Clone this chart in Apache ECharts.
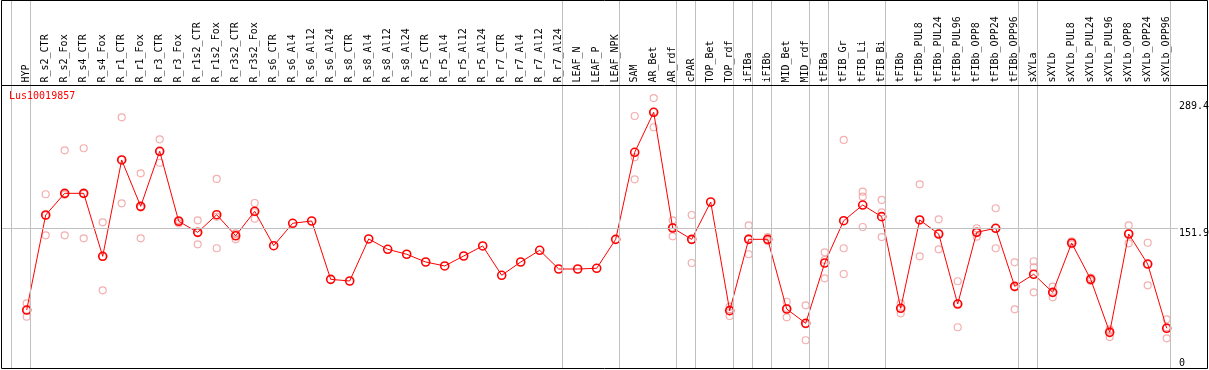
<!DOCTYPE html>
<html><head><meta charset="utf-8">
<script src="https://cdn.jsdelivr.net/npm/echarts@6/dist/echarts.min.js"></script>
<style>html,body{margin:0;padding:0;background:#fff}#c{width:1209px;height:370px}</style>
</head><body><div id="c"></div>
<script>
const title = 'Lus10019857';
const categories = ['HYP','R_s2_CTR','R_s2_Fox','R_s4_CTR','R_s4_Fox','R_r1_CTR','R_r1_Fox','R_r3_CTR','R_r3_Fox','R_r1s2_CTR','R_r1s2_Fox','R_r3s2_CTR','R_r3s2_Fox','R_s6_CTR','R_s6_Al4','R_s6_Al12','R_s6_Al24','R_s8_CTR','R_s8_Al4','R_s8_Al12','R_s8_Al24','R_r5_CTR','R_r5_Al4','R_r5_Al12','R_r5_Al24','R_r7_CTR','R_r7_Al4','R_r7_Al12','R_r7_Al24','LEAF_N','LEAF_P','LEAF_NPK','SAM','AR_Bet','AR_rdf','cPAR','TOP_Bet','TOP_rdf','iFIBa','iFIBb','MID_Bet','MID_rdf','tFIBa','tFIB_Gr','tFIB_Li','tFIB_Bi','tFIBb','tFIBb_PUL8','tFIBb_PUL24','tFIBb_PUL96','tFIBb_OPP8','tFIBb_OPP24','tFIBb_OPP96','sXYLa','sXYLb','sXYLb_PUL8','sXYLb_PUL24','sXYLb_PUL96','sXYLb_OPP8','sXYLb_OPP24','sXYLb_OPP96'];
const means = [62.9,166.0,189.5,189.5,121.2,225.7,175.4,235.1,159.2,147.2,166.3,143.5,170.0,132.7,157.0,159.5,96.2,94.4,140.0,128.8,123.4,115.0,110.7,121.5,132.4,100.6,115.0,127.7,107.4,107.4,108.2,139.6,234.0,277.4,151.9,139.6,180.1,62.2,139.6,139.6,64.0,48.5,113.9,159.8,176.8,164.2,64.8,160.6,145.4,69.4,147.2,151.6,88.6,101.7,82.1,135.6,96.2,38.7,145.4,112.8,43.1];
const replicates = [
  [70.2,62.9,55.7],[188.5,144.0,165.5],[236.2,144.0,188.0],[238.4,140.7,189.0],[158.1,84.3,121.0],
  [272.0,178.7,226.0],[211.2,140.7,174.0],[248.1,222.7,235.0],[157.0,160.5,160.0],[160.2,134.2,147.0],
  [205.1,129.9,164.0],[146.1,139.6,145.0],[179.0,162.0,169.0],[],[],[],[],[],[],[],[],[],[],[],[],[],[],[],[],
  [],[],[],[273.4,228.6,204.7],[292.9,261.2,278.0],[160.2,142.9,152.6],[166.0,113.9,139.0],[],[66.5,56.4,63.7],
  [154.8,123.4,140.6],[142.0,139.0,137.5],[71.9,55.0,65.0],[68.0,30.1,47.4],[125.5,117.2,97.3],[247.4,129.9,102.0],
  [191.3,185.9,153.0],[182.3,168.9,142.1],[70.2,59.3,64.8],[199.3,121.2,161.0],[161.3,128.8,146.0],[94.1,44.2,70.0],
  [151.6,142.5,147.5],[173.3,129.9,151.6],[114.7,63.7,87.5],[115.8,109.3,82.1],[88.2,76.7,81.5],[137.5,135.0,134.0],
  [94.4,96.0,98.0],[42.0,33.6,40.5],[154.8,135.3,146.0],[135.9,89.7,112.8],[52.8,32.2,44.3]
];
const groupSizes = [1,28,3,3,1,2,1,1,2,1,3,7,1,7];
const yTickLabels = [289.4, 151.9];
const yZeroLabel = [0];
const yRefLine = 151.9;

// layout (pixels)
const FONT = 'DejaVu Sans Mono';
const plotLeft = 1, plotRight = 1178, plotBottom = 368, dividerY = 85.5;
const firstX = 26.7, step = 19, sepShift = 4 / 19, labelShift = 0.5 / 19;
const xMin = -(firstX - plotLeft) / step;
const xMax = (plotRight - firstX) / step;
const valAtDivider = 306.5;
const yMax = valAtDivider * plotBottom / (plotBottom - dividerY);

const boundaries = [-1 + sepShift];
let cum = -1;
groupSizes.forEach(g => { cum += g; boundaries.push(cum + sepShift); });

const repData = [];
replicates.forEach((arr, i) => arr.forEach(v => repData.push([i, v])));
const meanData = means.map((v, i) => [i, v]);

const hidden = {axisLine: {show: false}, axisTick: {show: false}, splitLine: {show: false}};
const chart = echarts.init(document.getElementById('c'), null, {renderer: 'canvas'});
chart.setOption({
  animation: false,
  backgroundColor: '#fff',
  title: {text: title, left: 9, top: 91, padding: 0,
    textStyle: {color: '#ff0000', fontFamily: FONT, fontSize: 10, fontWeight: 'normal'}},
  grid: {left: plotLeft, right: 1209 - plotRight, top: 0, height: plotBottom, outerBoundsMode: 'none', containLabel: false},
  xAxis: [{
    type: 'value', min: xMin, max: xMax, position: 'bottom', ...hidden, axisLabel: {show: false}
  }, {
    type: 'value', min: xMin + labelShift, max: xMax + labelShift, position: 'top', offset: -dividerY, ...hidden,
    axisLabel: {customValues: categories.map((_, i) => i), rotate: 90, margin: 3, hideOverlap: false,
      formatter: v => categories[Math.round(v)] || '', fontFamily: FONT, fontSize: 10, color: '#000'}
  }],
  yAxis: [{
    type: 'value', min: 0, max: yMax, position: 'right', ...hidden,
    axisLabel: {customValues: yTickLabels, verticalAlign: 'top', margin: 1, formatter: v => v.toFixed(1),
      fontFamily: FONT, fontSize: 10, color: '#000'}
  }, {
    type: 'value', min: 0, max: yMax, position: 'right', ...hidden,
    axisLabel: {customValues: yZeroLabel, verticalAlign: 'bottom', margin: 1, formatter: v => String(v),
      fontFamily: FONT, fontSize: 10, color: '#000'}
  }],
  series: [{
    type: 'scatter', data: repData, xAxisIndex: 0, yAxisIndex: 0, symbol: 'circle', symbolSize: 7, z: 2,
    itemStyle: {color: 'rgba(0,0,0,0)', borderColor: '#f09a9a', borderWidth: 1.2},
    silent: true,
    markLine: {silent: true, symbol: 'none', label: {show: false},
      lineStyle: {color: '#c0c0c0', type: 'solid', width: 1},
      data: boundaries.map(b => ({xAxis: b})).concat([{yAxis: yRefLine}])}
  }, {
    type: 'line', data: meanData, xAxisIndex: 0, yAxisIndex: 0, symbol: 'circle', symbolSize: 8, z: 3,
    itemStyle: {color: 'rgba(0,0,0,0)', borderColor: '#ff0000', borderWidth: 1.6},
    lineStyle: {color: '#ff0000', width: 1}, silent: true
  }],
  graphic: [
    {type: 'rect', z: 100, silent: true, shape: {x: 1.5, y: 0.5, width: 1206, height: 368},
      style: {fill: null, stroke: '#000', lineWidth: 1}},
    {type: 'line', z: 100, silent: true, shape: {x1: 1.5, y1: dividerY, x2: 1207.5, y2: dividerY},
      style: {stroke: '#000', lineWidth: 1}}
  ]
});
</script></body></html>
